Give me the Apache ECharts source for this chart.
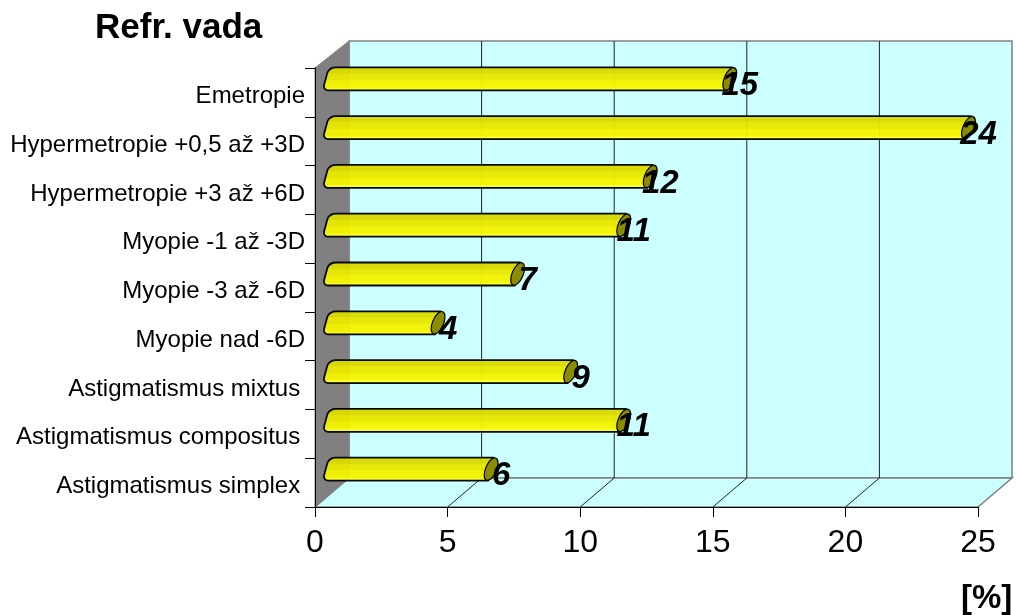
<!DOCTYPE html>
<html>
<head>
<meta charset="utf-8">
<style>html,body{margin:0;padding:0;background:#fff}#chart{width:1017px;height:615px}</style>
<script src="https://cdn.jsdelivr.net/npm/echarts@6/dist/echarts.min.js"></script>
</head>
<body>
<div id="chart"></div>
<script>
// Refractive error categories, top to bottom, with their share in percent
const categories = [
  'Emetropie',
  'Hypermetropie +0,5 až +3D',
  'Hypermetropie +3 až +6D',
  'Myopie -1 až -3D',
  'Myopie -3 až -6D',
  'Myopie nad -6D',
  'Astigmatismus mixtus\u2009',
  'Astigmatismus compositus\u2009',
  'Astigmatismus simplex\u2009'
];
const values = [15, 24, 12, 11, 7, 4, 9, 11, 6];
const xTicks = [0, 5, 10, 15, 20, 25];

const FONT = '"Liberation Sans", Arial, sans-serif';
// Oblique projection of the 3D box: back wall is shifted right and up
const DX = 34, DY = 29, DY_TOP = 27;
const BAR_SHIFT = 17, BAR_LIFT = 13.5, BAR_HALF = 11.5;

// Left wall, back wall, floor and their grid lines, placed from the plot rectangle and x scale
function renderBox(params, api) {
  const cs = params.coordSys;
  const l = cs.x, r = cs.x + cs.width, t = cs.y, b = cs.y + cs.height;
  const children = [
    { type: 'polygon', shape: { points: [[l + DX, t - DY_TOP], [r + DX, t - DY_TOP], [r + DX, b - DY], [l + DX, b - DY]] },
      style: { fill: '#ccffff', stroke: '#808080', lineWidth: 1.5 } },
    { type: 'polygon', shape: { points: [[l, b], [r, b], [r + DX, b - DY], [l + DX, b - DY]] },
      style: { fill: '#ccffff', stroke: '#808080', lineWidth: 1.5 } },
    { type: 'polygon', shape: { points: [[l, t], [l + DX, t - DY_TOP], [l + DX, b - DY], [l, b]] },
      style: { fill: '#808080', stroke: '#808080', lineWidth: 1 } }
  ];
  xTicks.slice(1, -1).forEach(function (v) {
    const x = api.coord([v, 0])[0];
    children.push({ type: 'polyline', shape: { points: [[x, b], [x + DX, b - DY], [x + DX, t - DY_TOP]] },
      style: { fill: null, stroke: '#222', lineWidth: 1 } });
  });
  return { type: 'group', children: children };
}

// One cylinder: slanted rounded base, striped body, tilted olive end cap, value label
function renderBar(params, api) {
  const i = api.value(1), v = api.value(0);
  const base = api.coord([0, i]);
  const tip = api.coord([v, i]);
  const x0 = base[0] + BAR_SHIFT, x1 = tip[0] + BAR_SHIFT, c = base[1] - BAR_LIFT;
  const t = c - BAR_HALF, b = c + BAR_HALF;
  const body = 'M' + (x0 + 4) + ' ' + t +
    'C' + (x0 - 1) + ' ' + t + ' ' + (x0 - 3) + ' ' + (t + 2) + ' ' + (x0 - 4.5) + ' ' + (t + 5) +
    'L' + (x0 - 8) + ' ' + (c + 6.5) +
    'C' + (x0 - 8.5) + ' ' + (b - 1.5) + ' ' + (x0 - 6) + ' ' + b + ' ' + (x0 - 4) + ' ' + b +
    'L' + (x1 - 3) + ' ' + b + 'L' + (x1 + 2) + ' ' + t + 'Z';
  const stripes = new echarts.graphic.LinearGradient(0, 0, 0, 1, [
    { offset: 0, color: '#d6d600' }, { offset: 0.28, color: '#dcdc00' },
    { offset: 0.29, color: '#e6e600' }, { offset: 0.55, color: '#eaea00' },
    { offset: 0.56, color: '#f2f200' }, { offset: 0.85, color: '#f6f600' },
    { offset: 0.86, color: '#ffff33' }, { offset: 1, color: '#f0f000' }
  ]);
  return {
    type: 'group',
    children: [
      { type: 'path', shape: { pathData: body }, style: { fill: stripes, stroke: '#000', lineWidth: 1.8, opacity: 0.96 } },
      { type: 'ellipse', x: x1, y: c, rotation: -0.4, shape: { cx: 0, cy: 0, rx: 5.5, ry: 12 },
        style: { fill: '#8c8c00', stroke: '#000', lineWidth: 1.2 } },
      { type: 'text', x: x1 + 10, y: c + 7, style: { text: String(v), fill: '#000', align: 'center', verticalAlign: 'middle',
        font: 'italic bold 33px ' + FONT } }
    ]
  };
}

const chart = echarts.init(document.getElementById('chart'));
chart.setOption({
  animation: false,
  backgroundColor: '#ffffff',
  title: [
    { text: 'Refr. vada', left: 90, top: 6, textStyle: { fontFamily: FONT, fontSize: 35, fontWeight: 'bold', color: '#000' } },
    { text: '[%]', left: 956, top: 577, textStyle: { fontFamily: FONT, fontSize: 33, fontWeight: 'bold', color: '#000' } }
  ],
  grid: { left: 315, top: 68, width: 663, height: 439 },
  xAxis: {
    type: 'value', min: 0, max: 25, interval: 5, z: 3,
    splitLine: { show: false },
    axisLine: { show: true, onZero: false, lineStyle: { color: '#000', width: 1 } },
    axisTick: { show: true, length: 10, lineStyle: { color: '#000' } },
    axisLabel: { color: '#000', fontFamily: FONT, fontSize: 32, margin: 20, showMinLabel: true, showMaxLabel: true, hideOverlap: false }
  },
  yAxis: {
    type: 'category', inverse: true, data: categories, z: 3,
    axisLine: { show: true, lineStyle: { color: '#000', width: 1 } },
    axisTick: { show: true, length: 10, lineStyle: { color: '#000' } },
    // A short line box anchored at its top sits the text a little below the band centre
    axisLabel: { color: '#000', fontFamily: FONT, fontSize: 24, margin: 10, interval: 0, verticalAlign: 'top', lineHeight: 8 }
  },
  series: [
    { type: 'custom', coordinateSystem: 'cartesian2d', silent: true, z: 1, clip: false,
      data: [[0, 0]], renderItem: renderBox },
    { type: 'custom', coordinateSystem: 'cartesian2d', silent: true, z: 2, clip: false,
      encode: { x: 0, y: 1 }, data: values.map(function (v, i) { return [v, i]; }), renderItem: renderBar }
  ]
});
</script>
</body>
</html>
